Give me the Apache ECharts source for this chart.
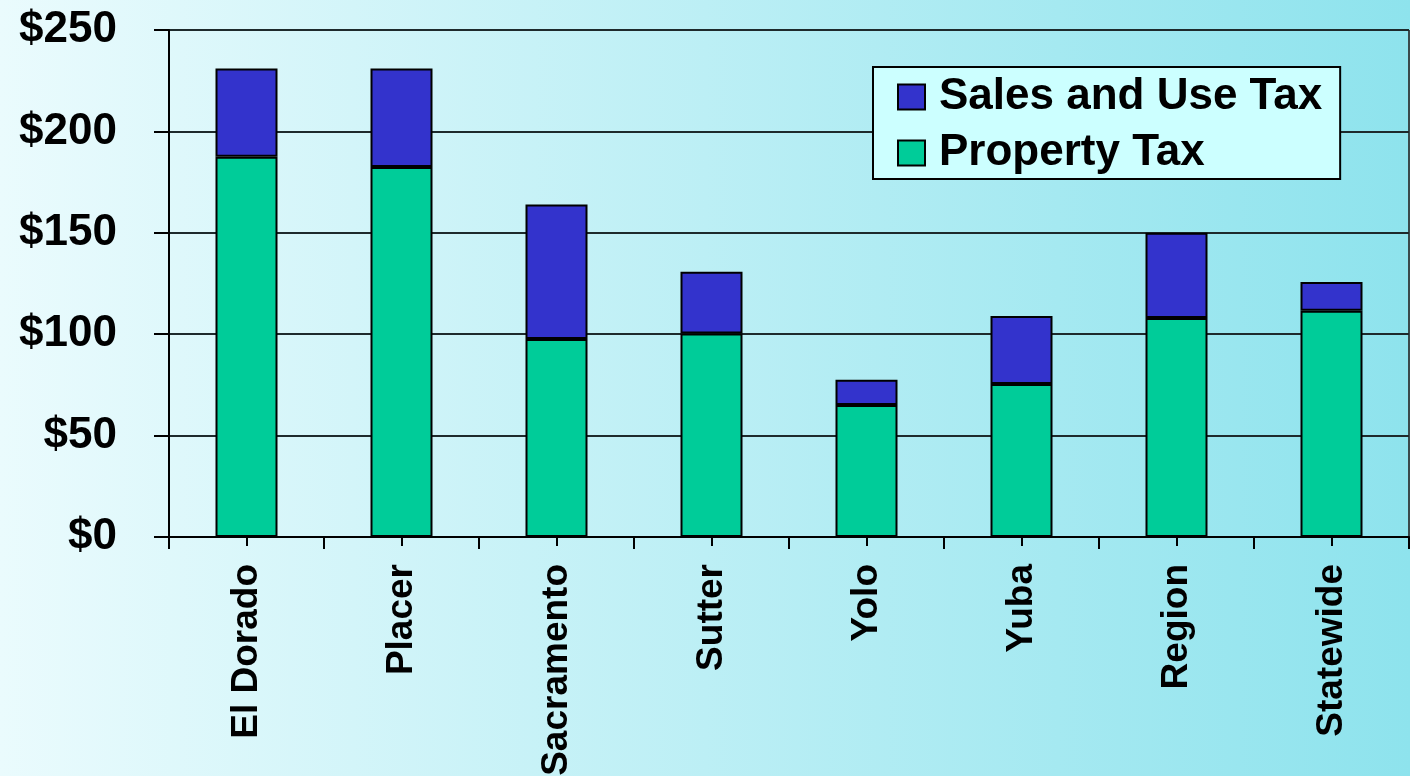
<!DOCTYPE html>
<html>
<head>
<meta charset="utf-8">
<script src="https://cdn.jsdelivr.net/npm/echarts@6/dist/echarts.min.js"></script>
<style>
  html, body { margin: 0; padding: 0; }
  #chart { width: 1410px; height: 776px; }
</style>
</head>
<body>
<div id="chart"></div>
<script>
// Per-capita tax revenue by jurisdiction (dollars)
var categories = ['El Dorado', 'Placer', 'Sacramento', 'Sutter', 'Yolo', 'Yuba', 'Region', 'Statewide'];
var propertyTax = [187.5, 182.4, 97.6, 100.4, 65.1, 75.4, 108.0, 111.6];
var salesUseTax = [43.5, 48.6, 66.4, 30.4, 12.5, 33.6, 42.0, 14.1];
var yTicks = [0, 50, 100, 150, 200, 250];

var FONT = '"Liberation Sans", Arial, sans-serif';

var chart = echarts.init(document.getElementById('chart'));
chart.setOption({
  backgroundColor: {
    type: 'linear', x: 0, y: 0, x2: 1, y2: 0,
    colorStops: [
      { offset: 0, color: '#eafbfd' },
      { offset: 1, color: '#8ee3ed' }
    ]
  },
  animation: false,
  grid: { left: 169, right: 1, top: 30, bottom: 239, containLabel: false, outerBoundsMode: 'none' },
  legend: {
    orient: 'vertical',
    left: 873,
    top: 67,
    data: ['Sales and Use Tax', 'Property Tax'],
    backgroundColor: '#ccffff',
    borderColor: '#000',
    borderWidth: 2,
    padding: [8, 18, 4, 24],
    itemWidth: 27,
    itemHeight: 25,
    itemGap: 12,
    icon: 'rect',
    textStyle: {
      fontFamily: FONT, fontWeight: 'bold', fontSize: 44, color: '#000',
      padding: [0, 0, 0, 9]
    }
  },
  xAxis: [
    {
      type: 'category',
      data: categories,
      position: 'bottom',
      axisLine: { lineStyle: { color: '#000', width: 2 } },
      axisTick: { show: true, length: 12, alignWithLabel: false, lineStyle: { color: '#000', width: 2 } },
      axisLabel: {
        rotate: 90,
        margin: 27,
        fontFamily: FONT, fontWeight: 'bold', fontSize: 37, color: '#000'
      }
    },
    {
      type: 'category',
      data: categories,
      position: 'bottom',
      axisLine: { show: false },
      axisTick: { show: true, length: 9, alignWithLabel: true, lineStyle: { color: '#000', width: 2 } },
      axisLabel: { show: false }
    }
  ],
  yAxis: {
    type: 'value',
    min: yTicks[0],
    max: yTicks[yTicks.length - 1],
    interval: 50,
    axisLine: { show: true, lineStyle: { color: '#000', width: 2 } },
    axisTick: { show: true, length: 15, lineStyle: { color: '#000', width: 2 } },
    splitLine: { show: true, lineStyle: { color: '#1e2a2c', width: 2 } },
    axisLabel: {
      margin: 52,
      fontFamily: FONT, fontWeight: 'bold', fontSize: 44, color: '#000',
      formatter: function (v) { return '$' + v; }
    }
  },
  series: [
    {
      name: 'Property Tax',
      type: 'bar',
      stack: 'tax',
      barWidth: 62,
      data: propertyTax,
      itemStyle: { color: '#00cc99', borderColor: '#000', borderWidth: 2 }
    },
    {
      name: 'Sales and Use Tax',
      type: 'bar',
      stack: 'tax',
      barWidth: 62,
      data: salesUseTax,
      itemStyle: { color: '#3333cc', borderColor: '#000', borderWidth: 2 }
    }
  ],
  graphic: [
    {
      // right edge of the plot frame
      type: 'line',
      shape: { x1: 1409, y1: 30, x2: 1409, y2: 537 },
      style: { stroke: '#3a4a4c', lineWidth: 2 }
    }
  ]
});
</script>
</body>
</html>
